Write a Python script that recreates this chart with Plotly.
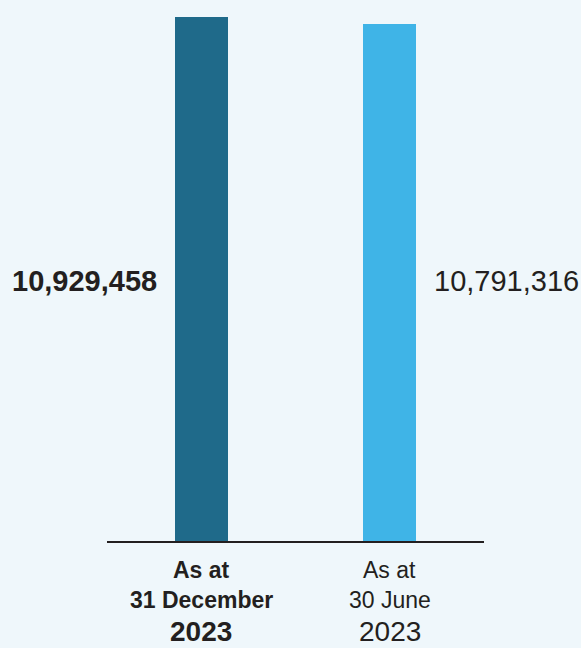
import plotly.graph_objects as go

# Data
categories = ["31 December 2023", "30 June 2023"]
values = [10929458, 10791316]
label_line1 = ["As at", "As at"]
label_line2 = ["31 December", "30 June"]
label_year = ["2023", "2023"]

bar_colors = ["#1F6A8A", "#3FB4E7"]
text_color = "#231F20"
bg = "#EFF7FB"
font_family = "Liberation Sans, Arial, Helvetica, sans-serif"
weights = ["bold", "normal"]

x_pos = list(range(len(categories)))

fig = go.Figure()
fig.add_trace(go.Bar(
    x=x_pos,
    y=values,
    width=0.28,
    marker=dict(color=bar_colors, line=dict(width=0)),
    hoverinfo="skip",
    showlegend=False,
))

annotations = []
label_y = max(values) / 2
# value labels: left of first bar, right of second bar
for i, v in enumerate(values):
    left = i == 0
    txt = f"{v:,}"
    if weights[i] == "bold":
        txt = f"<b>{txt}</b>"
    annotations.append(dict(
        x=x_pos[i] + (-0.14 if left else 0.14),
        y=label_y,
        xref="x", yref="y",
        text=txt,
        showarrow=False,
        xanchor="right" if left else "left",
        yanchor="middle",
        xshift=-16 if left else 16,
        yshift=-2,
        font=dict(family=font_family, size=29, color=text_color),
    ))

# category labels below the baseline
for i in range(len(categories)):
    rows = [(label_line1[i], 23, -29), (label_line2[i], 23, -59), (label_year[i], 28, -90)]
    for t, size, shift in rows:
        if weights[i] == "bold":
            t = f"<b>{t}</b>"
        annotations.append(dict(
            x=x_pos[i], y=0, xref="x", yref="paper",
            text=t, showarrow=False,
            xanchor="center", yanchor="middle",
            yshift=shift, borderpad=0,
            font=dict(family=font_family, size=size, color=text_color),
        ))

fig.update_layout(
    width=581, height=648,
    margin=dict(l=107, r=97, t=0, b=107, pad=0),
    paper_bgcolor=bg,
    plot_bgcolor=bg,
    annotations=annotations,
    xaxis=dict(
        range=[-0.5, 1.5],
        showgrid=False, zeroline=False,
        showticklabels=False, ticks="",
        showline=True, linecolor="#231F20", linewidth=2,
        fixedrange=True,
    ),
    yaxis=dict(
        range=[0, 11284000],
        showgrid=False, zeroline=False,
        showticklabels=False, ticks="",
        showline=False,
        fixedrange=True,
    ),
    bargap=0,
)

fig.write_html("out.html", config={"displayModeBar": False})
